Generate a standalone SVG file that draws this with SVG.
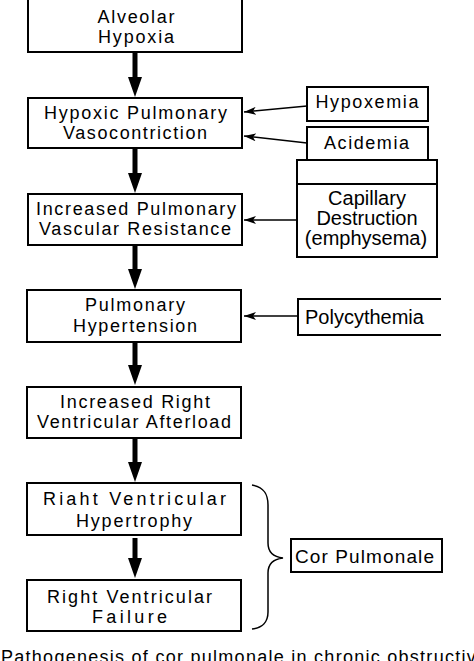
<svg xmlns="http://www.w3.org/2000/svg" width="474" height="661" viewBox="0 0 474 661">
<style>
.box{fill:#fff;stroke:#000;stroke-width:2}
.t{font-family:"Liberation Sans",Arial,sans-serif;font-size:18px;fill:#000;text-anchor:middle}
.s{font-family:"Liberation Sans",Arial,sans-serif;font-size:20px;fill:#000;text-anchor:middle}
.thick{stroke:#000;stroke-width:5;fill:none}
.thin{stroke:#000;stroke-width:1.5;fill:none}
</style>
<defs>
<marker id="big" markerWidth="20" markerHeight="14" refX="0" refY="7" orient="auto" markerUnits="userSpaceOnUse" viewBox="0 0 20 14">
<path d="M0,0 L20,7 L0,14 Z" fill="#000"/>
</marker>
<marker id="small" markerWidth="12" markerHeight="8" refX="12" refY="4" orient="auto" markerUnits="userSpaceOnUse" viewBox="0 0 12 8">
<path d="M0,0 L12,4 L0,8 L3,4 Z" fill="#000"/>
</marker>
</defs>
<g id="connectors">
<line class="thick" x1="135" y1="53" x2="135" y2="77" marker-end="url(#big)"/>
<line class="thick" x1="135" y1="149" x2="135" y2="173" marker-end="url(#big)"/>
<line class="thick" x1="135" y1="246" x2="135" y2="269" marker-end="url(#big)"/>
<line class="thick" x1="135" y1="343" x2="135" y2="365" marker-end="url(#big)"/>
<line class="thick" x1="135" y1="439" x2="135" y2="462" marker-end="url(#big)"/>
<line class="thick" x1="135" y1="538" x2="135" y2="558" marker-end="url(#big)"/>
<line class="thin" x1="307" y1="106" x2="244" y2="112" marker-end="url(#small)"/>
<line class="thin" x1="307" y1="143" x2="244" y2="136" marker-end="url(#small)"/>
<line class="thin" x1="297" y1="220" x2="244" y2="220" marker-end="url(#small)"/>
<line class="thin" x1="297" y1="316" x2="244" y2="316" marker-end="url(#small)"/>
<path class="thin" d="M252,485 C264,487 268,494 268,505 L268,543 C268,552 274,557 283,558 C274,559 268,564 268,573 L268,612 C268,622 262,628 252,629"/>
</g>
<g id="alveolar-hypoxia">
<rect class="box" x="28" y="-2" width="214" height="54"/>
<text class="t" x="136" y="23" textLength="77" lengthAdjust="spacing">Alveolar</text>
<text class="t" x="136" y="43" textLength="76" lengthAdjust="spacing">Hypoxia</text>
</g>
<g id="hpv">
<rect class="box" x="28" y="98" width="214" height="50"/>
<text class="t" x="135.5" y="119" textLength="183" lengthAdjust="spacing">Hypoxic Pulmonary</text>
<text class="t" x="135" y="139" textLength="144" lengthAdjust="spacing">Vasocontriction</text>
</g>
<g id="hypoxemia">
<rect class="box" x="307" y="87" width="121" height="34"/>
<text class="t" x="367" y="108" textLength="103" lengthAdjust="spacing">Hypoxemia</text>
</g>
<g id="acidemia">
<rect class="box" x="307" y="127" width="121" height="33"/>
<text class="t" x="366.5" y="149" textLength="85" lengthAdjust="spacing">Acidemia</text>
</g>
<g id="capillary">
<rect class="box" x="297" y="160" width="140" height="97"/>
<line x1="297" y1="184" x2="437" y2="184" stroke="#000" stroke-width="2"/>
<text class="s" x="367" y="205">Capillary</text>
<text class="s" x="367" y="225">Destruction</text>
<text class="s" x="366" y="245">(emphysema)</text>
</g>
<g id="ipvr">
<rect class="box" x="28" y="194" width="214" height="51"/>
<text class="t" x="136" y="215" textLength="200" lengthAdjust="spacing">Increased Pulmonary</text>
<text class="t" x="135" y="235" textLength="192" lengthAdjust="spacing">Vascular Resistance</text>
</g>
<g id="pulm-htn">
<rect class="box" x="27" y="290" width="214" height="52"/>
<text class="t" x="135" y="311" textLength="100" lengthAdjust="spacing">Pulmonary</text>
<text class="t" x="135" y="332" textLength="124" lengthAdjust="spacing">Hypertension</text>
</g>
<g id="polycythemia">
<path d="M441,299 L298,299 L298,335 L441,335" fill="#fff" stroke="#000" stroke-width="2"/>
<text class="s" x="305" y="324" style="text-anchor:start">Polycythemia</text>
</g>
<g id="irva">
<rect class="box" x="27" y="387" width="214" height="51"/>
<text class="t" x="135" y="408" textLength="150" lengthAdjust="spacing">Increased Right</text>
<text class="t" x="134" y="428" textLength="194" lengthAdjust="spacing">Ventricular Afterload</text>
</g>
<g id="rvh">
<rect class="box" x="27" y="483" width="214" height="52"/>
<text class="t" x="134.5" y="505" textLength="183" lengthAdjust="spacing">Riaht  Ventricular</text>
<text class="t" x="134" y="527" textLength="116" lengthAdjust="spacing">Hypertrophy</text>
</g>
<g id="rvf">
<rect class="box" x="27" y="580" width="214" height="51"/>
<text class="t" x="129.5" y="603" textLength="165" lengthAdjust="spacing">Right Ventricular</text>
<text class="t" x="129.5" y="623" textLength="75" lengthAdjust="spacing">Failure</text>
</g>
<g id="cor-pulmonale">
<rect class="box" x="291" y="539" width="151" height="33"/>
<text class="s" x="295" y="563" style="text-anchor:start;font-size:19px" textLength="139" lengthAdjust="spacing">Cor Pulmonale</text>
</g>
<text x="1" y="663" style="font-family:'Liberation Sans',Arial,sans-serif;font-size:18px" textLength="486" lengthAdjust="spacing">Pathogenesis of cor pulmonale in chronic obstructive</text>
</svg>
